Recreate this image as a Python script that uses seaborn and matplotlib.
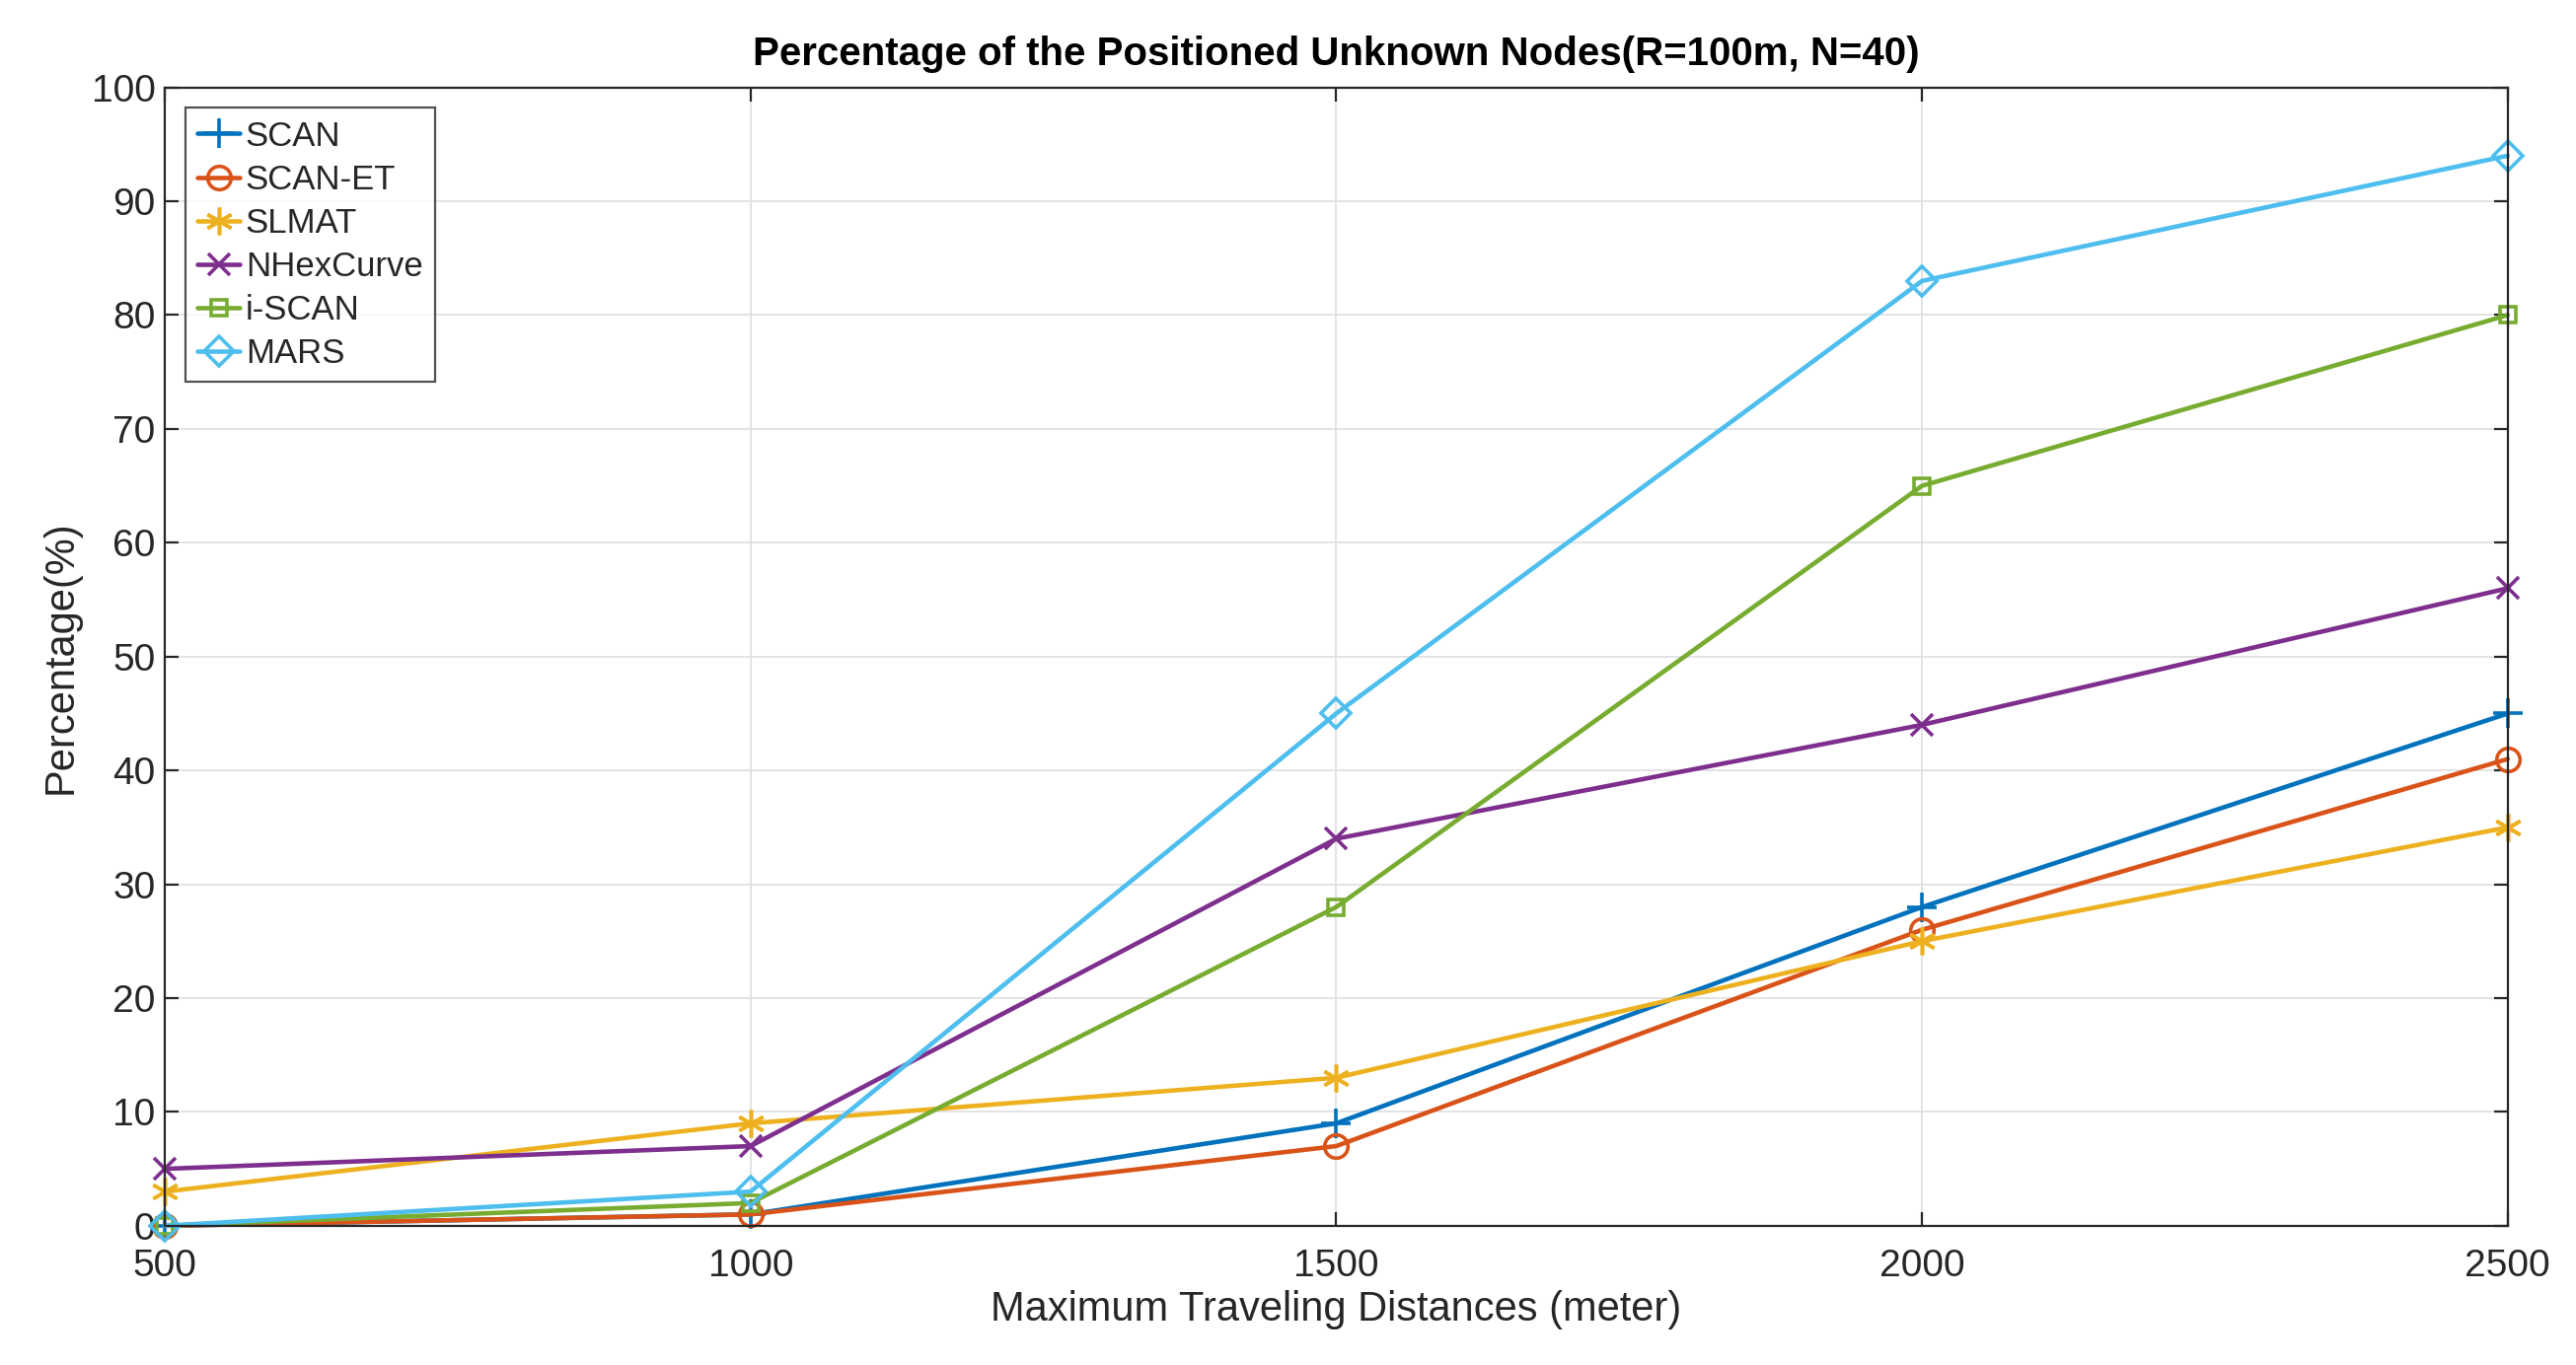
import numpy as np
import pandas as pd
import matplotlib
matplotlib.use("Agg")
import matplotlib.pyplot as plt
import seaborn as sns

distances = [500, 1000, 1500, 2000, 2500]
scan = [0, 1, 9, 28, 45]
scan_et = [0, 1, 7, 26, 41]
slmat = [3, 9, 13, 25, 35]
nhexcurve = [5, 7, 34, 44, 56]
iscan = [0, 2, 28, 65, 80]
mars = [0, 3, 45, 83, 94]

names = ["SCAN", "SCAN-ET", "SLMAT", "NHexCurve", "i-SCAN", "MARS"]
series = [scan, scan_et, slmat, nhexcurve, iscan, mars]
colors = ["#0072BD", "#D95319", "#EDB120", "#7E2F8E", "#77AC30", "#4DBEEE"]
# matlab style markers, '*' is an asterisk not a star
markers = ["+", "o", (6, 2, 0), "x", "s", "D"]
msizes = [22, 17, 20, 16, 12, 15]

sns.set_theme(style="white")
plt.rcParams["font.family"] = ["Liberation Sans", "DejaVu Sans"]

fig = plt.figure(figsize=(26.11, 13.84), dpi=100)
ax = fig.add_axes([0.064, 0.102, 0.9095, 0.834])

for name, vals, c, m, ms in zip(names, series, colors, markers, msizes):
    df = pd.DataFrame({"x": distances, "y": vals})
    sns.lineplot(data=df, x="x", y="y", ax=ax, color=c, marker=m,
                 markersize=ms, markerfacecolor="none", markeredgecolor=c,
                 markeredgewidth=2.6, linewidth=3.3, label=name, clip_on=False)

ax.set_xlim(500, 2500)
ax.set_ylim(0, 100)
ax.set_xticks(distances)
ax.set_yticks(np.arange(0, 101, 10))
ax.grid(True, color="#e0e0e0", linewidth=1.3)
ax.tick_params(axis="both", labelsize=28, colors="#262626", length=10,
               direction="in", width=1.6)
ax.tick_params(axis="x", pad=17)
ax.tick_params(axis="y", pad=7)
ax.tick_params(top=True, right=True, bottom=True, left=True)
for s in ax.spines.values():
    s.set_visible(True)
    s.set_color("#262626")
    s.set_linewidth(1.6)

ax.set_xlabel("Maximum Traveling Distances (meter)", fontsize=30, color="#262626",
              labelpad=4)
ax.set_ylabel("Percentage(%)", fontsize=30, color="#262626", labelpad=8)
ax.set_title("Percentage of the Positioned Unknown Nodes(R=100m, N=40)",
             fontsize=29, fontweight="bold", color="black", pad=16)

leg = ax.legend(loc="upper left", fontsize=25, frameon=True, fancybox=False,
                borderaxespad=0.6, handlelength=1.25, handletextpad=0.15,
                labelspacing=0.32, borderpad=0.35)
leg.get_frame().set_edgecolor("#262626")
leg.get_frame().set_linewidth(1.6)

fig.savefig("out.png", dpi=100)
